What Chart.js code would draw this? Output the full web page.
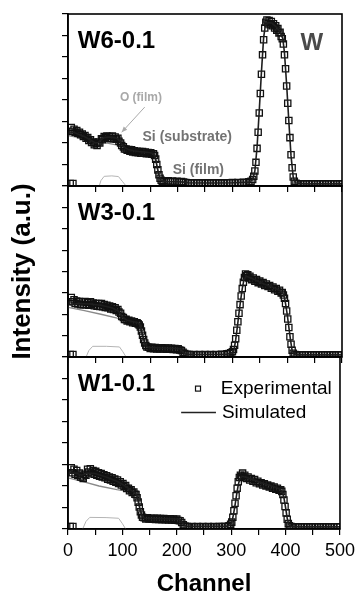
<!DOCTYPE html>
<html lang="en">
<head>
  <meta charset="UTF-8">
  <title>RBS spectra of W films</title>
  <script src="https://cdn.jsdelivr.net/npm/chart.js"></script>
  <style>
    body {
      margin: 0;
      background: #fff;
    }

    #wrap {
      position: relative;
      width: 360px;
      height: 595px;
    }

    #wrap canvas {
      position: absolute;
      left: 0;
      top: 0;
    }
  </style>
</head>
<body>

  <div id="wrap">
    <canvas id="panel1" width="360" height="595"></canvas>
    <canvas id="panel2" width="360" height="595"></canvas>
    <canvas id="panel3" width="360" height="595"></canvas>
  </div>

  <script>
    // [channel, intensity], one y unit = one tick
    const w6Exp = [[4,0.12],[9,0.12],
      [6,2.72],[8,2.55],[11,2.64],[13,2.5],[16,2.58],[18,2.45],[21,2.5],[23,2.38],[26,2.42],[28,2.3],[31,2.35],[33,2.22],[36,2.25],[38,2.12],[41,2.15],[43,2.02],[46,2.05],[48,1.92],[51,1.98],[53,1.88],[56,2.05],[58,2.0],[61,2.2],[63,2.15],[66,2.3],[68,2.25],[71,2.33],[73,2.22],[76,2.3],[78,2.2],[81,2.32],[83,2.2],[86,2.28],[88,2.18],[91,2.22],[93,2.08],[96,2.0],[98,1.88],
      [101,1.82],[103,1.72],[106,1.72],[108,1.66],[111,1.7],[113,1.62],[116,1.68],[118,1.58],[121,1.64],[123,1.56],[126,1.62],[128,1.55],[131,1.6],[133,1.52],[136,1.6],[138,1.52],[141,1.58],[143,1.5],[146,1.56],[148,1.5],[151,1.55],[153,1.48],[156,1.5],[158,1.42],[160,1.25],[162,1.0],[164,0.75],[166,0.52],[168,0.36],[170,0.27],[172,0.22],[175,0.24],[179,0.2],[183,0.24],[187,0.2],[191,0.23],[195,0.2],[199,0.22],
      [203,0.19],[207,0.21],[211,0.18],[215,0.16],[220,0.15],[225,0.13],[230,0.15],[235,0.13],[240,0.15],[245,0.13],[250,0.15],[255,0.13],[260,0.15],[265,0.13],[270,0.15],[275,0.13],[280,0.15],[285,0.13],[290,0.15],[295,0.14],[300,0.16],[305,0.14],[310,0.16],[315,0.15],[320,0.17],[325,0.16],[330,0.2],[334,0.22],[337,0.3],[339,0.45],[341,0.7],[343,1.1],[345,1.75],[347,2.5],[349,3.4],[351,4.3],[353,5.2],[355,6.1],[357,6.8],[359,7.35],
      [361,7.62],[363,7.72],[365,7.55],[367,7.7],[369,7.5],[371,7.65],[373,7.45],[375,7.55],[377,7.35],[379,7.45],[381,7.25],[383,7.32],[385,7.12],[387,7.15],[389,6.95],[391,6.85],[393,6.6],[395,6.1],[397,5.45],[399,4.65],[401,3.85],[403,3.05],[405,2.25],[407,1.45],[409,0.85],[411,0.42],[413,0.22],[416,0.13],[420,0.1],[425,0.09],[430,0.1],[435,0.09],[440,0.1],[445,0.09],[450,0.1],[455,0.09],[460,0.1],[465,0.09],[470,0.1],[475,0.09],[480,0.1],[485,0.09],[490,0.1],[495,0.09],[500,0.1]];
    const w6Sim = [[3,2.45],[10,2.5],[20,2.4],[30,2.3],[40,2.15],[50,2.0],[55,2.02],[60,2.15],[66,2.25],[75,2.28],[85,2.25],[92,2.18],[98,1.95],[104,1.78],[110,1.7],[120,1.64],[130,1.6],[140,1.58],[150,1.55],[156,1.5],[160,1.25],[163,0.85],[166,0.5],[169,0.3],[173,0.22],[180,0.2],[200,0.2],[212,0.18],[220,0.15],[260,0.14],[300,0.15],[330,0.18],[337,0.3],[341,0.7],[345,1.8],[349,3.5],[353,5.3],[357,6.9],[360,7.45],[365,7.6],[372,7.58],[380,7.4],[388,7.1],[392,6.85],[395,6.2],[399,4.7],[403,3.0],[407,1.4],[411,0.4],[415,0.15],[430,0.1],[500,0.1]];
    const w6Sub = [[0,2.35],[30,2.2],[60,2.05],[90,1.9],[120,1.68],[156,1.5],[160,1.2],[164,0.7],[168,0.35],[172,0.2]];
    const w6O = [[57,0],[60,0.25],[66,0.45],[80,0.47],[92,0.44],[99,0.22],[106,0]];

    const w3Exp = [[4,0.12],[9,0.12],
      [6,2.78],[8,2.58],[11,2.68],[13,2.5],[16,2.62],[18,2.48],[21,2.6],[23,2.45],[26,2.58],[28,2.44],[31,2.6],[33,2.45],[36,2.55],[38,2.42],[41,2.58],[43,2.45],[46,2.52],[48,2.4],[51,2.5],[53,2.38],[56,2.5],[58,2.36],[61,2.5],[63,2.35],[66,2.45],[68,2.32],[71,2.42],[73,2.3],[76,2.38],[78,2.25],[81,2.35],[83,2.22],[86,2.3],[88,2.18],[91,2.22],[93,2.1],[96,2.05],[98,1.9],
      [101,1.85],[103,1.75],[106,1.76],[108,1.68],[111,1.72],[113,1.65],[116,1.68],[118,1.6],[121,1.65],[123,1.58],[126,1.6],[128,1.55],[130,1.5],[132,1.4],[134,1.22],[136,1.02],[138,0.82],[140,0.66],[142,0.54],[144,0.47],[147,0.46],[150,0.4],[153,0.45],[156,0.39],[159,0.44],[162,0.38],[165,0.43],[168,0.37],[171,0.43],[174,0.37],[177,0.42],[180,0.36],[183,0.42],[186,0.36],[189,0.41],[192,0.35],[195,0.4],[198,0.34],
      [201,0.38],[204,0.33],[207,0.3],[210,0.22],[213,0.16],[217,0.13],[221,0.12],[225,0.11],[230,0.12],[235,0.1],[240,0.12],[245,0.1],[250,0.12],[255,0.1],[260,0.12],[265,0.1],[270,0.12],[275,0.11],[280,0.13],[285,0.12],[290,0.15],[294,0.16],[297,0.2],[300,0.25],[302,0.35],[304,0.55],[306,0.85],[308,1.25],[310,1.65],[312,2.05],[314,2.45],[316,2.85],[318,3.2],[320,3.5],[322,3.72],[324,3.88],[326,3.8],[328,3.85],[330,3.7],[332,3.78],[335,3.62],[338,3.7],[341,3.55],[344,3.62],[347,3.48],[350,3.55],[353,3.42],[356,3.48],[359,3.35],
      [362,3.42],[365,3.3],[368,3.35],[371,3.22],[374,3.28],[377,3.15],[380,3.2],[383,3.08],[386,3.12],[389,3.0],[391,3.02],[393,2.9],[395,2.75],[397,2.5],[399,2.15],[401,1.78],[403,1.38],[405,0.95],[407,0.6],[409,0.32],[411,0.18],[414,0.12],[418,0.1],[423,0.09],[428,0.1],[433,0.09],[438,0.1],[443,0.09],[448,0.1],[453,0.09],[458,0.1],[463,0.09],[468,0.1],[473,0.09],[478,0.1],[483,0.09],[488,0.1],[493,0.09],[498,0.1]];
    const w3Sim = [[3,2.45],[20,2.5],[40,2.48],[60,2.42],[80,2.3],[92,2.15],[100,1.85],[108,1.72],[120,1.65],[128,1.6],[131,1.5],[134,1.25],[137,0.95],[140,0.7],[143,0.52],[147,0.45],[170,0.42],[200,0.4],[205,0.37],[209,0.25],[213,0.15],[220,0.12],[290,0.13],[300,0.2],[303,0.35],[306,0.8],[309,1.4],[312,2.05],[315,2.65],[318,3.2],[321,3.6],[325,3.78],[335,3.68],[350,3.5],[365,3.35],[380,3.2],[390,3.05],[394,2.9],[397,2.5],[400,2.0],[403,1.4],[406,0.8],[409,0.3],[413,0.12],[430,0.1],[500,0.1]];
    const w3Sub = [[0,2.32],[30,2.17],[60,2.0],[90,1.82],[110,1.72],[128,1.62],[132,1.3],[136,0.9],[140,0.55],[144,0.4],[200,0.38],[206,0.3],[212,0.12]];
    const w3O = [[33,0],[38,0.3],[45,0.5],[70,0.5],[94,0.47],[100,0.25],[106,0]];

    const w1Exp = [[4,0.12],[9,0.12],
      [6,2.85],[8,2.62],[11,2.78],[13,2.55],[16,2.72],[18,2.5],[21,2.6],[23,2.42],[26,2.42],[28,2.35],[31,2.55],[33,2.5],[36,2.78],[38,2.65],[41,2.8],[43,2.6],[46,2.72],[48,2.55],[51,2.68],[53,2.5],[56,2.62],[58,2.45],[61,2.58],[63,2.42],[66,2.52],[68,2.38],[71,2.48],[73,2.32],[76,2.42],[78,2.28],[81,2.38],[83,2.22],[86,2.32],[88,2.18],[91,2.28],[93,2.12],[96,2.2],[98,2.05],
      [101,2.12],[103,1.98],[106,2.02],[108,1.88],[111,1.9],[113,1.78],[116,1.82],[118,1.7],[121,1.72],[123,1.62],[125,1.6],[127,1.45],[129,1.25],[131,1.02],[133,0.8],[135,0.65],[137,0.55],[140,0.52],[143,0.47],[146,0.52],[149,0.46],[152,0.5],[155,0.45],[158,0.5],[161,0.44],[164,0.5],[167,0.44],[170,0.49],[173,0.43],[176,0.49],[179,0.43],[182,0.48],[185,0.42],[188,0.48],[191,0.42],[194,0.47],[197,0.41],[200,0.46],
      [203,0.4],[206,0.38],[209,0.3],[212,0.2],[215,0.14],[219,0.12],[223,0.1],[228,0.12],[233,0.1],[238,0.12],[243,0.1],[248,0.12],[253,0.1],[258,0.12],[263,0.1],[268,0.12],[273,0.1],[278,0.12],[283,0.11],[288,0.12],[293,0.12],[296,0.15],[299,0.22],[301,0.32],[303,0.55],[305,0.85],[307,1.2],[309,1.55],[311,1.9],[313,2.2],[315,2.4],[317,2.5],[319,2.45],[321,2.6],[323,2.42],[325,2.5],[328,2.35],[331,2.42],[334,2.28],[337,2.35],[340,2.22],[343,2.3],[346,2.15],[349,2.22],[352,2.1],[355,2.15],[358,2.05],
      [361,2.1],[364,2.0],[367,2.05],[370,1.95],[373,2.0],[376,1.9],[379,1.95],[382,1.85],[385,1.9],[388,1.8],[391,1.82],[393,1.75],[395,1.6],[397,1.35],[399,1.05],[401,0.75],[403,0.45],[405,0.25],[407,0.15],[410,0.12],[414,0.1],[419,0.09],[424,0.1],[429,0.09],[434,0.1],[439,0.09],[444,0.1],[449,0.09],[454,0.1],[459,0.09],[464,0.1],[469,0.09],[474,0.1],[479,0.09],[484,0.1],[489,0.09],[494,0.1],[499,0.09]];
    const w1Sim = [[3,2.6],[15,2.6],[25,2.5],[35,2.6],[50,2.58],[70,2.42],[90,2.22],[105,2.0],[115,1.82],[122,1.7],[126,1.6],[129,1.35],[132,1.0],[135,0.7],[138,0.55],[142,0.5],[180,0.48],[204,0.46],[208,0.38],[212,0.22],[216,0.14],[225,0.12],[290,0.12],[298,0.18],[301,0.3],[304,0.65],[307,1.1],[310,1.6],[313,2.05],[316,2.35],[320,2.45],[330,2.38],[345,2.25],[360,2.12],[375,2.0],[390,1.85],[394,1.72],[397,1.45],[400,1.0],[403,0.5],[406,0.2],[410,0.12],[430,0.1],[500,0.1]];
    const w1Sub = [[0,2.38],[26,2.22],[57,2.0],[90,1.83],[118,1.72],[124,1.65],[128,1.35],[132,0.9],[136,0.55],[140,0.45],[204,0.42],[210,0.3],[216,0.12]];
    const w1O = [[27,0],[33,0.35],[40,0.54],[70,0.53],[93,0.5],[100,0.25],[106,0]];

    const sampleNames = ['W6-0.1', 'W3-0.1', 'W1-0.1'];
    const xTicks = [0, 100, 200, 300, 400, 500];

    Chart.defaults.font.family = '"Liberation Sans", Arial, sans-serif';
    Chart.defaults.color = '#000';

    const panels = [
      { id: 'panel1', top: 14, bottom: 186, exp: w6Exp, sim: w6Sim, sub: w6Sub, ox: w6O },
      { id: 'panel2', top: 186, bottom: 357, exp: w3Exp, sim: w3Sim, sub: w3Sub, ox: w3O },
      { id: 'panel3', top: 357, bottom: 529, exp: w1Exp, sim: w1Sim, sub: w1Sub, ox: w1O }
    ];

    const toXY = arr => arr.map(p => ({ x: p[0], y: p[1] }));

    function text(ctx, chart, str, c, v, font, color, align) {
      const { x, y } = chart.scales;
      ctx.font = font;
      ctx.fillStyle = color;
      ctx.textAlign = align || 'left';
      ctx.textBaseline = 'middle';
      ctx.fillText(str, x.getPixelForValue(c), y.getPixelForValue(v));
    }

    // frame box + labels drawn on top of each panel
    const decor = {
      id: 'decor',
      afterDraw(chart, args, opts) {
        const ctx = chart.ctx;
        const a = chart.chartArea;
        const { x, y } = chart.scales;
        ctx.save();
        ctx.strokeStyle = '#000';
        ctx.lineWidth = 1.6;
        ctx.strokeRect(a.left, a.top, a.right - a.left, a.bottom - a.top);

        ctx.font = 'bold 24px "Liberation Sans", Arial';
        ctx.fillStyle = '#000';
        ctx.textAlign = 'left';
        ctx.textBaseline = 'alphabetic';
        ctx.fillText(opts.name, x.getPixelForValue(18), y.getPixelForValue(6.4));

        if (opts.index === 0) {
          ctx.textBaseline = 'alphabetic';
          ctx.textAlign = 'center';
          ctx.fillStyle = '#4a4a4a';
          ctx.fillText('W', x.getPixelForValue(445), y.getPixelForValue(6.33));
          text(ctx, chart, 'O (film)', 133, 4.12, 'bold 12px "Liberation Sans", Arial', '#a8a8a8', 'center');
          text(ctx, chart, 'Si (substrate)', 136, 2.28, 'bold 14px "Liberation Sans", Arial', '#737373');
          text(ctx, chart, 'Si (film)', 191, 0.74, 'bold 14px "Liberation Sans", Arial', '#737373');
          // arrow from O (film) to the spectrum
          const x0 = x.getPixelForValue(140), y0 = y.getPixelForValue(3.67);
          const x1 = x.getPixelForValue(98), y1 = y.getPixelForValue(2.5);
          const ang = Math.atan2(y1 - y0, x1 - x0);
          ctx.strokeStyle = '#aaaaaa';
          ctx.fillStyle = '#aaaaaa';
          ctx.lineWidth = 1;
          ctx.beginPath();
          ctx.moveTo(x0, y0);
          ctx.lineTo(x1, y1);
          ctx.stroke();
          ctx.beginPath();
          ctx.moveTo(x1, y1);
          ctx.lineTo(x1 - 6 * Math.cos(ang - 0.4), y1 - 6 * Math.sin(ang - 0.4));
          ctx.lineTo(x1 - 6 * Math.cos(ang + 0.4), y1 - 6 * Math.sin(ang + 0.4));
          ctx.closePath();
          ctx.fill();
        }

        if (opts.index === 2) {
          // legend
          const sx = x.getPixelForValue(239), sy = y.getPixelForValue(6.53);
          ctx.strokeStyle = '#111';
          ctx.lineWidth = 1.2;
          ctx.strokeRect(sx - 2.5, sy - 2.5, 5, 5);
          text(ctx, chart, 'Experimental', 281, 6.53, '19px "Liberation Sans", Arial', '#000');
          const ly = y.getPixelForValue(5.42);
          ctx.strokeStyle = '#222';
          ctx.lineWidth = 1.5;
          ctx.beginPath();
          ctx.moveTo(x.getPixelForValue(208), ly);
          ctx.lineTo(x.getPixelForValue(272), ly);
          ctx.stroke();
          text(ctx, chart, 'Simulated', 283, 5.42, '19px "Liberation Sans", Arial', '#000');
        }
        ctx.restore();
      }
    };

    panels.forEach((p, i) => {
      const last = i === 2;
      const xAxisH = last ? 66 : 6;
      new Chart(document.getElementById(p.id), {
        type: 'scatter',
        data: {
          datasets: [
            {
              label: 'Simulated',
              data: toXY(p.sim),
              showLine: true,
              borderColor: '#1e1e1e',
              borderWidth: 1.6,
              pointRadius: 0,
              order: 0
            },
            {
              label: 'Experimental',
              data: toXY(p.exp),
              showLine: false,
              pointStyle: 'rect',
              pointRadius: 4.4,
              borderColor: '#111',
              borderWidth: 1.3,
              backgroundColor: 'rgba(0,0,0,0)',
              order: 1
            },
            {
              label: 'Si (substrate)',
              data: toXY(p.sub),
              showLine: true,
              borderColor: '#8a8a8a',
              borderWidth: 1.3,
              pointRadius: 0,
              order: 2
            },
            {
              label: 'O (film)',
              data: toXY(p.ox),
              showLine: true,
              borderColor: '#b4b4b4',
              borderWidth: 1,
              pointRadius: 0,
              order: 3
            }
          ]
        },
        options: {
          responsive: false,
          animation: false,
          events: [],
          layout: {
            padding: { left: 0, right: 18, top: p.top, bottom: 595 - p.bottom - xAxisH }
          },
          plugins: {
            legend: { display: false },
            tooltip: { enabled: false },
            decor: { name: sampleNames[i], index: i }
          },
          scales: {
            x: {
              type: 'linear',
              min: 0,
              max: 500,
              afterFit: s => { s.height = xAxisH; },
              ticks: {
                display: last,
                stepSize: 50,
                autoSkip: false,
                maxRotation: 0,
                padding: 5,
                color: '#000',
                font: { size: 18 },
                callback: v => xTicks.includes(v) ? String(v) : ''
              },
              grid: { drawOnChartArea: false, drawTicks: true, tickLength: 6, color: '#000', lineWidth: 1.2 },
              border: { color: '#000', width: 1.6 },
              title: {
                display: last,
                text: 'Channel',
                color: '#000',
                font: { size: 24, weight: 'bold', lineHeight: 0.9 },
                padding: { top: 0, bottom: 0 }
              }
            },
            y: {
              min: 0,
              max: 8,
              afterFit: s => { s.width = 68; },
              ticks: { display: false, stepSize: 1 },
              grid: { drawOnChartArea: false, drawTicks: true, tickLength: 6, color: '#000', lineWidth: 1.2 },
              border: { color: '#000', width: 1.6 },
              title: {
                display: i === 1,
                text: 'Intensity (a.u.)',
                color: '#000',
                font: { size: 26, weight: 'bold' },
                padding: { top: 7, bottom: 0 }
              }
            }
          }
        },
        plugins: [decor]
      });
    });
  </script>

</body>
</html>
